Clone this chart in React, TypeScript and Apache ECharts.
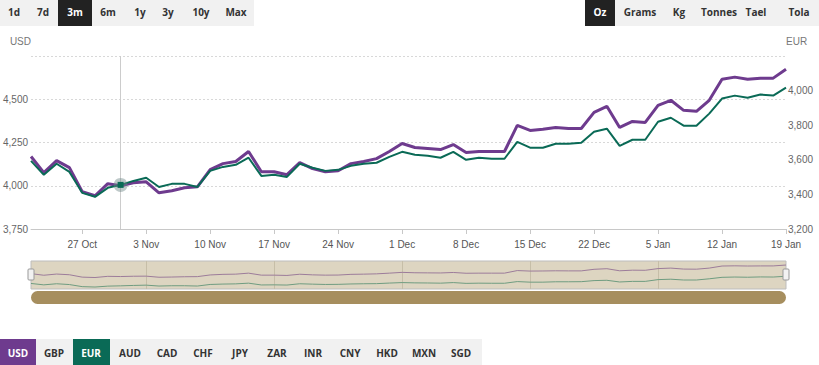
import React, { useEffect, useRef } from "react";
import * as echarts from "echarts";

const categories = [
  "21 Oct", "22 Oct", "23 Oct", "24 Oct", "27 Oct", "28 Oct", "29 Oct", "30 Oct", "31 Oct",
  "3 Nov", "4 Nov", "5 Nov", "6 Nov", "7 Nov", "10 Nov", "11 Nov", "12 Nov", "13 Nov", "14 Nov",
  "17 Nov", "18 Nov", "19 Nov", "20 Nov", "21 Nov", "24 Nov", "25 Nov", "26 Nov", "27 Nov", "28 Nov",
  "1 Dec", "2 Dec", "3 Dec", "4 Dec", "5 Dec", "8 Dec", "9 Dec", "10 Dec", "11 Dec", "12 Dec",
  "15 Dec", "16 Dec", "17 Dec", "18 Dec", "19 Dec", "22 Dec", "23 Dec", "24 Dec", "30 Dec", "31 Dec",
  "5 Jan", "6 Jan", "7 Jan", "8 Jan", "9 Jan", "12 Jan", "13 Jan", "14 Jan", "15 Jan", "16 Jan", "19 Jan",
];

const usdValues = [
  4169, 4076, 4145, 4105, 3965, 3942, 4012, 4000, 4017, 4023,
  3959, 3971, 3988, 3994, 4093, 4128, 4140, 4198, 4081, 4081,
  4064, 4134, 4099, 4081, 4087, 4128, 4140, 4157, 4198, 4244,
  4221, 4215, 4209, 4238, 4192, 4198, 4198, 4198, 4349, 4320,
  4326, 4337, 4331, 4331, 4424, 4459, 4337, 4372, 4366, 4465,
  4494, 4436, 4430, 4494, 4616, 4628, 4616, 4622, 4622, 4674,
];

const eurValues = [
  3594, 3513, 3577, 3530, 3409, 3386, 3438, 3455, 3478, 3496,
  3443, 3461, 3461, 3443, 3536, 3559, 3571, 3612, 3507, 3513,
  3501, 3577, 3554, 3536, 3542, 3565, 3577, 3583, 3617, 3646,
  3629, 3623, 3612, 3646, 3600, 3612, 3606, 3606, 3704, 3670,
  3670, 3693, 3693, 3699, 3762, 3780, 3681, 3716, 3716, 3820,
  3843, 3797, 3797, 3867, 3954, 3971, 3959, 3977, 3971, 4017,
];

const tickLabels = ["27 Oct", "3 Nov", "10 Nov", "17 Nov", "24 Nov", "1 Dec", "8 Dec", "15 Dec", "22 Dec", "5 Jan", "12 Jan", "19 Jan"];
const navigatorLines = ["3 Nov", "17 Nov", "1 Dec", "15 Dec", "5 Jan"];
const hoverDate = "30 Oct";

const rangeButtons = ["1d", "7d", "3m", "6m", "1y", "3y", "10y", "Max"];
const rangeCenters = [14, 43, 75, 108, 140, 168, 201, 236];
const unitButtons = ["Oz", "Grams", "Kg", "Tonnes", "Tael", "Tola"];
const unitCenters = [600, 640, 679, 719, 756, 799];
const currencyButtons = ["USD", "GBP", "EUR", "AUD", "CAD", "CHF", "JPY", "ZAR", "INR", "CNY", "HKD", "MXN", "SGD"];
const currencyCenters = [18, 54, 91, 130, 167, 203, 240, 277, 313, 350, 387, 424, 461];

const PURPLE = "#6e3b8e";
const GREEN = "#0a6a56";
const BTN_FONT = "'Open Sans', 'Noto Sans', sans-serif";

export default function App() {
  const ref = useRef<HTMLDivElement>(null);

  useEffect(() => {
    document.body.style.margin = "0";
    if (!ref.current) return;
    const chart = echarts.init(ref.current, null, { renderer: "svg" });

    const graphics: any[] = [];
    graphics.push({ type: "rect", shape: { x: 0, y: 0, width: 254, height: 26 }, style: { fill: "#f1f1f1" }, z: 0 });
    rangeButtons.forEach((t, i) => {
      const active = t === "3m";
      if (active) graphics.push({ type: "rect", shape: { x: 58, y: 0, width: 34, height: 26 }, style: { fill: "#222222" }, z: 1 });
      graphics.push({
        type: "text", x: rangeCenters[i], y: 12, z: 2,
        style: { text: t, fill: active ? "#ffffff" : "#333333", font: `bold 10px ${BTN_FONT}`, align: "center", verticalAlign: "middle" },
      });
    });
    graphics.push({ type: "rect", shape: { x: 585, y: 0, width: 234, height: 26 }, style: { fill: "#f1f1f1" }, z: 0 });
    unitButtons.forEach((t, i) => {
      const active = t === "Oz";
      if (active) graphics.push({ type: "rect", shape: { x: 585, y: 0, width: 30, height: 26 }, style: { fill: "#222222" }, z: 1 });
      graphics.push({
        type: "text", x: unitCenters[i], y: 12, z: 2,
        style: { text: t, fill: active ? "#ffffff" : "#333333", font: `bold 10px ${BTN_FONT}`, align: "center", verticalAlign: "middle" },
      });
    });
    graphics.push({ type: "rect", shape: { x: 0, y: 339, width: 482, height: 26 }, style: { fill: "#f1f1f1" }, z: 0 });
    currencyButtons.forEach((t, i) => {
      let fill: string | null = null;
      if (t === "USD") fill = PURPLE;
      if (t === "EUR") fill = GREEN;
      if (fill) {
        const x0 = t === "USD" ? 0 : 73;
        const w = t === "USD" ? 36 : 37;
        graphics.push({ type: "rect", shape: { x: x0, y: 339, width: w, height: 26 }, style: { fill }, z: 1 });
      }
      graphics.push({
        type: "text", x: currencyCenters[i], y: 353, z: 2,
        style: { text: t, fill: fill ? "#ffffff" : "#333333", font: `bold 10px ${BTN_FONT}`, align: "center", verticalAlign: "middle" },
      });
    });
    graphics.push({ type: "rect", shape: { x: 31, y: 261, width: 755, height: 28 }, style: { fill: "#ddd5c1", stroke: "#bdbdbd", lineWidth: 1 }, z: -1 });
    graphics.push({ type: "rect", shape: { x: 31, y: 291, width: 755, height: 13, r: 6.5 }, style: { fill: "#a68e5e" }, z: 0 });
    graphics.push({ type: "rect", shape: { x: 28, y: 269, width: 6, height: 11, r: 1 }, style: { fill: "#f2f2f2", stroke: "#999999", lineWidth: 1 }, z: 5 });
    graphics.push({ type: "rect", shape: { x: 783, y: 269, width: 6, height: 11, r: 1 }, style: { fill: "#f2f2f2", stroke: "#999999", lineWidth: 1 }, z: 5 });

    const showTick = (_i: number, v: string) => tickLabels.includes(v);
    const showNav = (_i: number, v: string) => navigatorLines.includes(v);
    const hoverIdx = categories.indexOf(hoverDate);

    chart.setOption({
      animation: false,
      backgroundColor: "#ffffff",
      textStyle: { fontFamily: "'Liberation Sans', Arial, sans-serif" },
      graphic: graphics,
      grid: [
        { left: 31, right: 33, top: 56, height: 173 },
        { left: 31, right: 33, top: 261, height: 28 },
      ],
      xAxis: [
        {
          type: "category", gridIndex: 0, data: categories, boundaryGap: false,
          axisLine: { lineStyle: { color: "#c8c8c8" } },
          axisTick: { show: true, interval: showTick, length: 5, lineStyle: { color: "#c8c8c8" } },
          axisLabel: { interval: showTick, color: "#555555", fontSize: 10, margin: 10 },
          splitLine: { show: false },
        },
        {
          type: "category", gridIndex: 1, data: categories, boundaryGap: false,
          axisLine: { show: false }, axisTick: { show: false }, axisLabel: { show: false },
          splitLine: { show: true, interval: showNav, lineStyle: { color: "#c6bea8", width: 1 } },
        },
      ],
      yAxis: [
        {
          type: "value", gridIndex: 0, position: "left", min: 3750, max: 4750, interval: 250,
          name: "USD", nameLocation: "end", nameGap: 10,
          nameTextStyle: { color: "#777777", fontSize: 10, align: "right" },
          axisLine: { show: false }, axisTick: { show: false },
          axisLabel: {
            color: "#666666", fontSize: 10, margin: 3,
            formatter: (v: number) => (v === 4750 ? "" : v.toLocaleString("en-US")),
          },
          splitLine: { show: true, lineStyle: { color: "#d8d8d8", type: [2, 2] } },
        },
        {
          type: "value", gridIndex: 0, position: "right", min: 3200, max: 4200, interval: 200,
          name: "EUR", nameLocation: "end", nameGap: 10,
          nameTextStyle: { color: "#777777", fontSize: 10, align: "left" },
          axisLine: { show: false }, axisTick: { show: false },
          axisLabel: {
            color: "#666666", fontSize: 10, margin: 2,
            formatter: (v: number) => (v === 4200 ? "" : v.toLocaleString("en-US")),
          },
          splitLine: { show: false },
        },
        {
          type: "value", gridIndex: 1, min: 3270, max: 4910, show: false,
          splitLine: { show: false },
        },
      ],
      series: [
        {
          name: "USD", type: "line", xAxisIndex: 0, yAxisIndex: 0, data: usdValues,
          showSymbol: false, symbol: "none", silent: true, z: 3,
          lineStyle: { color: PURPLE, width: 3 },
          markLine: {
            silent: true, symbol: ["none", "none"], label: { show: false },
            lineStyle: { color: "#cccccc", width: 1, type: "solid" },
            data: [{ xAxis: hoverIdx }],
          },
        },
        {
          name: "EUR", type: "line", xAxisIndex: 0, yAxisIndex: 1, data: eurValues,
          showSymbol: false, symbol: "none", silent: true, z: 4,
          lineStyle: { color: GREEN, width: 2 },
          markPoint: {
            silent: true, label: { show: false },
            data: [
              { coord: [hoverIdx, eurValues[hoverIdx]], symbol: "circle", symbolSize: 14, itemStyle: { color: "rgba(110,135,135,0.45)" } },
              { coord: [hoverIdx, eurValues[hoverIdx]], symbol: "rect", symbolSize: 6, itemStyle: { color: GREEN } },
            ],
          },
        },
        {
          name: "USD nav", type: "line", xAxisIndex: 1, yAxisIndex: 2, data: usdValues,
          showSymbol: false, symbol: "none", silent: true, z: 3,
          lineStyle: { color: "#9c7c9a", width: 1 },
        },
        {
          name: "EUR nav", type: "line", xAxisIndex: 1, yAxisIndex: 2, data: eurValues,
          showSymbol: false, symbol: "none", silent: true, z: 3,
          lineStyle: { color: "#6f9c80", width: 1 },
        },
      ],
    });

    return () => chart.dispose();
  }, []);

  return <div ref={ref} style={{ width: 819, height: 365 }} />;
}
